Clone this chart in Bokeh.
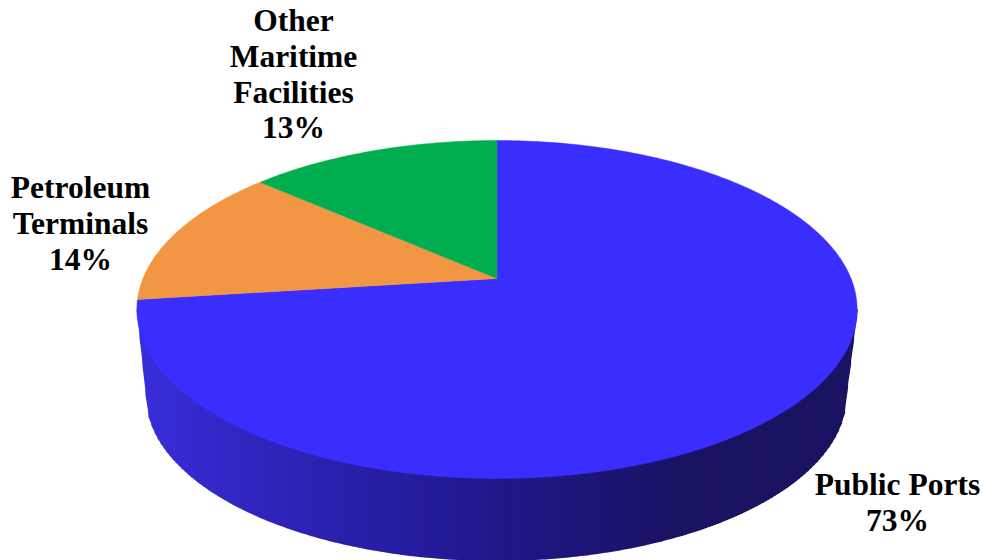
import numpy as np
from bokeh.plotting import figure
from bokeh.models import Range1d
from bokeh.core.properties import value
from bokeh.embed import file_html
from bokeh.resources import INLINE

categories = ["Public Ports", "Petroleum Terminals", "Other Maritime Facilities"]
printed_percent = ["73%", "14%", "13%"]
# wedge sizes as read from the drawn slice boundaries
shares = [73, 13.5, 13.5]
colors = ["#3A2EFF", "#F39644", "#00AE4F"]

label_names = [["Public Ports"], ["Petroleum", "Terminals"], ["Other", "Maritime", "Facilities"]]
label_x = [897, 80, 293]
label_y0 = [484, 187, 20]
LINE = 35.8

# Perspective disc: centre of the circle lands on the apex, ellipse below it
APEX_X, APEX_Y = 496.5, 278.0
S, K, R = 163.3, 0.1834, 354.0
TOP_CY, TOP_RX, TOP_RY = 309.0, 360.0, 169.0
BOT_CX, BOT_CY, BOT_RX, BOT_RY = 495.5, 395.0, 350.5, 165.5
shade_x = [136, 200, 300, 400, 500, 600, 680, 860]
shade_r = [0x3A, 0x35, 0x2D, 0x27, 0x20, 0x1C, 0x19, 0x19]
shade_g = [0x2E, 0x29, 0x22, 0x1D, 0x18, 0x15, 0x13, 0x13]
shade_b = [0xDC, 0xCC, 0xB4, 0xA0, 0x88, 0x74, 0x62, 0x62]


def project(theta):
    """theta clockwise from 12 o'clock on the disc"""
    u, v = np.sin(theta), np.cos(theta)
    d = 1 + K * v
    return APEX_X + R * u / d, APEX_Y - S * v / d


p = figure(width=983, height=560, output_backend="svg", toolbar_location=None,
           x_range=Range1d(0, 983), y_range=Range1d(560, 0), min_border=0,
           background_fill_color="white", border_fill_color="white")
p.axis.visible = False
p.grid.visible = False
p.outline_line_color = None

# side wall, as thin vertical strips
edges = np.arange(136, 858, 3.0)
edges = np.append(edges, 857.0)


def lower(x):
    x = np.asarray(x, float)
    t = np.clip((x - BOT_CX) / BOT_RX, -1, 1)
    y = BOT_CY + BOT_RY * np.sqrt(1 - t ** 2)
    left_lim = BOT_CX - BOT_RX
    right_lim = BOT_CX + BOT_RX
    y = np.where(x < left_lim, TOP_CY + (BOT_CY - TOP_CY) * (x - 136) / (left_lim - 136), y)
    y = np.where(x > right_lim, TOP_CY + (BOT_CY - TOP_CY) * (857 - x) / (857 - right_lim), y)
    return y


xs, ys, fills = [], [], []
for a, b in zip(edges[:-1], edges[1:]):
    xs.append([a, b + 0.6, b + 0.6, a])
    ys.append([TOP_CY, TOP_CY, float(lower(b)), float(lower(a))])
    m = (a + b) / 2
    c = [int(np.interp(m, shade_x, s)) for s in (shade_r, shade_g, shade_b)]
    fills.append("#%02x%02x%02x" % tuple(c))
p.patches(xs, ys, fill_color=fills, line_color=None)

# top face: wedges clockwise from 12 o'clock
cum = 0.0
total = sum(shares)
for share, col in zip(shares, colors):
    th = 2 * np.pi * np.linspace(cum, cum + share, max(8, int(share * 6))) / total
    ex, ey = project(th)
    p.patch(np.r_[APEX_X, ex], np.r_[APEX_Y, ey], fill_color=col, line_color=col, line_width=0.5)
    cum += share

# labels
tx, ty, tt = [], [], []
for names, pct, x0, y0 in zip(label_names, printed_percent, label_x, label_y0):
    for i, t in enumerate(names + [pct]):
        tx.append(x0)
        ty.append(y0 + i * LINE)
        tt.append(t)
p.text(tx, ty, text=tt, text_font=value("Liberation Serif"), text_font_style="bold",
       text_font_size="31.5px", text_color="#000000", text_align="center", text_baseline="middle")

open("out.html", "w").write(file_html(p, INLINE))
